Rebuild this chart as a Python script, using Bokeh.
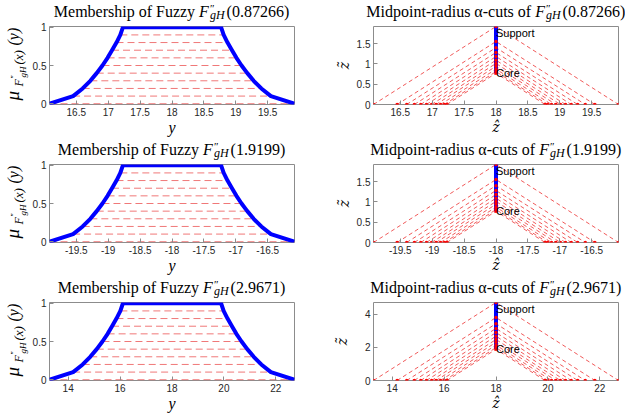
import math
from bokeh.plotting import figure
from bokeh.models import Range1d, Label, FixedTicker, NumeralTickFormatter
from bokeh.layouts import column, row
from bokeh.embed import file_html
from bokeh.resources import INLINE
from bokeh.core.properties import value

# ---------------- data ----------------
alpha_levels = [0.0, 0.1, 0.2, 0.3, 0.4, 0.5, 0.6, 0.7, 0.8, 0.9, 1.0]
x_points = ["0.87266", "1.9199", "2.9671"]
midpoints = [18.0, -18.0, 18.0]
radius_x1 = [1.92, 1.55, 1.40, 1.28, 1.18, 1.09, 1.01, 0.94, 0.87, 0.81, 0.77]
radius_x2 = [1.92, 1.55, 1.40, 1.28, 1.18, 1.09, 1.01, 0.94, 0.87, 0.81, 0.77]
radius_x3 = [4.72, 3.81, 3.44, 3.15, 2.90, 2.68, 2.48, 2.31, 2.14, 1.99, 1.89]
xticks_1 = [16.5, 17, 17.5, 18, 18.5, 19, 19.5]
xticks_2 = [-19.5, -19, -18.5, -18, -17.5, -17, -16.5]
xticks_3 = [14, 16, 18, 20, 22]
yticks_membership = [0, 0.5, 1]
yticks_radius_1 = [0, 0.5, 1, 1.5]
yticks_radius_2 = [0, 0.5, 1, 1.5]
yticks_radius_3 = [0, 2, 4]

# ---------------- style ----------------
GREY = "#8c8c8c"
TICK_TXT = "#262626"
SERIF = "Liberation Serif"
SANS = "Liberation Sans"
RED_CUT = "#f07878"
RED_MR = "#f05a5a"
RED_DOT = "#ff0000"
BLUE = "#0000ff"
TSIZE = 16
MID = 0.3375   # (ascent - descent)/2 in em for Liberation Serif

REG = {'M': .889, 'e': .444, 'm': .778, 'b': .5, 'r': .333, 's': .389, 'h': .5,
       'i': .278, 'p': .5, ' ': .25, 'o': .5, 'f': .333, 'F': .556, 'u': .5,
       'z': .444, 'y': .5, '(': .333, ')': .333, '.': .25, 'd': .5, 'n': .5,
       't': .278, 'a': .444, 'c': .444, '-': .333, '\u2033': .41, '\u03b1': .5}
ITA = {'F': .611, 'g': .5, 'H': .722}

TITLE_H = 22
TOP = 4
FRAME_H = 78
LEFT_W = 310
RIGHT_W = 315
YLAB_W = 29


def tw(s, size, italic):
    tab = ITA if italic else REG
    return sum(tab.get(c, 0.5) for c in s) * size


def blank(p):
    p.grid.visible = False
    p.outline_line_color = None
    p.background_fill_color = "white"
    p.border_fill_color = "white"
    return p


def put(p, x, yb, t, size, italic=False, rotated=False, align="left", font=SERIF):
    # (x, yb) = start of the text baseline; drawn with a centred baseline
    if rotated:
        x, y, ang = x - MID * size, yb, math.pi / 2
    else:
        x, y, ang = x, yb + MID * size, 0.0
    p.text(x=[x], y=[y], text=[t], text_font=value(font),
           text_font_size=f"{size}px",
           text_font_style="italic" if italic else "normal",
           angle=ang, text_align=align, text_baseline="middle",
           text_color="black")


def title_strip(width, frame_left, frame_w, prefix, xval):
    p = figure(frame_width=width, frame_height=TITLE_H, output_backend="svg",
               toolbar_location=None,
               x_range=Range1d(-frame_left, width - frame_left),
               y_range=Range1d(FRAME_H + TOP, FRAME_H + TOP + TITLE_H),
               x_axis_type=None, y_axis_type=None,
               min_border=0, min_border_left=0, min_border_right=0,
               min_border_top=0, min_border_bottom=0)
    blank(p)
    w_pre = tw(prefix, TSIZE, False)
    w_f = tw("F", TSIZE, True) + 1
    w_sub = tw("gH", 12, True) + 2
    w_suf = tw("(" + xval + ")", TSIZE, False)
    total = w_pre + w_f + w_sub + w_suf
    fx = frame_w / 2 - total / 2 + w_pre
    y0 = FRAME_H + 9.5
    put(p, fx, y0, prefix, TSIZE, False, align="right")
    put(p, fx, y0, "F", TSIZE, True)
    put(p, fx + w_f, y0 + 5.5, "\u2033", 11, False)
    put(p, fx + w_f, y0 - 2.5, "gH", 12, True)
    put(p, fx + w_f + w_sub, y0, "(" + xval + ")", TSIZE, False)
    return p


def style(p, xticks, yticks):
    p.xaxis.ticker = FixedTicker(ticks=xticks)
    p.yaxis.ticker = FixedTicker(ticks=yticks)
    for ax in (p.xaxis[0], p.yaxis[0]):
        ax.formatter = NumeralTickFormatter(format="0.[0]")
        ax.axis_line_color = None
        ax.major_tick_in = 4
        ax.major_tick_out = 0
        ax.minor_tick_line_color = None
        ax.major_tick_line_color = GREY
        ax.major_label_text_font = SANS
        ax.major_label_text_font_size = "10px"
        ax.major_label_text_color = TICK_TXT
        ax.major_label_standoff = 3
    p.xgrid.visible = False
    p.ygrid.visible = False
    p.outline_line_color = GREY
    p.outline_line_alpha = 1
    p.outline_line_width = 1
    p.background_fill_color = "white"
    p.border_fill_color = "white"


def left_panel(mid, radii, xticks, xval, row_h):
    main_h = row_h - TITLE_H
    bottom = main_h - TOP - FRAME_H
    r0 = radii[0]
    main_w = LEFT_W - YLAB_W
    p = figure(width=main_w, height=main_h, output_backend="svg", toolbar_location=None,
               x_range=Range1d(mid - r0, mid + r0), y_range=Range1d(-0.01, 1.01),
               min_border_left=19, min_border_right=16, min_border_top=TOP,
               min_border_bottom=bottom)
    style(p, xticks, yticks_membership)
    p.xaxis.axis_label = "y"
    p.xaxis.axis_label_text_font = SERIF
    p.xaxis.axis_label_text_font_style = "italic"
    p.xaxis.axis_label_text_font_size = "16px"
    p.xaxis.axis_label_text_color = "black"
    p.xaxis.axis_label_standoff = 0
    fw = main_w - 19 - 16
    p.segment(x0=[mid - r for r in radii], y0=alpha_levels,
              x1=[mid + r for r in radii], y1=alpha_levels,
              line_color=RED_CUT, line_width=1, line_dash="7 4")
    xs = [mid - r for r in radii] + [mid + r for r in reversed(radii)]
    ys = list(alpha_levels) + list(reversed(alpha_levels))
    p.line(xs, ys, line_color=BLUE, line_width=4, line_join="round")

    t = title_strip(LEFT_W, 48, fw, "Membership of Fuzzy ", xval)

    # rotated y label  mu_{F''_{gH}(x)}(y), frame-relative coordinates
    yl = figure(width=YLAB_W, height=main_h, output_backend="svg", toolbar_location=None,
                x_range=Range1d(-48, -48 + YLAB_W), y_range=Range1d(0, FRAME_H),
                x_axis_type=None, y_axis_type=None,
                min_border_left=0, min_border_right=0, min_border_top=TOP,
                min_border_bottom=bottom)
    blank(yl)
    put(yl, -30, 4, "\u03bc", 19, True, rotated=True)
    put(yl, -25.5, 18, "F", 12, True, rotated=True)
    put(yl, -31, 26, "\u2033", 8, False, rotated=True)
    put(yl, -22.5, 27, "gH", 9, True, rotated=True)
    put(yl, -25.5, 40, "(x)", 13, True, rotated=True)
    put(yl, -30, 59, "(y)", 16, True, rotated=True)
    return column(row(t), row(yl, p))


def right_panel(mid, radii, xticks, yticks, xval, row_h, ylab_standoff):
    main_h = row_h - TITLE_H
    bottom = main_h - TOP - FRAME_H
    r0 = radii[0]
    p = figure(width=RIGHT_W, height=main_h, output_backend="svg", toolbar_location=None,
               x_range=Range1d(mid - r0, mid + r0), y_range=Range1d(0, r0),
               min_border_left=63, min_border_right=7, min_border_top=TOP,
               min_border_bottom=bottom)
    style(p, xticks, yticks)
    fw = RIGHT_W - 63 - 7
    p.xaxis.axis_label = "\u1e91"
    p.xaxis.axis_label_text_font = "DejaVu Serif"
    p.xaxis.axis_label_text_font_style = "italic"
    p.xaxis.axis_label_text_font_size = "14px"
    p.xaxis.axis_label_text_color = "black"
    p.xaxis.axis_label_standoff = 0
    p.yaxis.axis_label = "z\u0303"
    p.yaxis.axis_label_text_font = "DejaVu Serif"
    p.yaxis.axis_label_text_font_style = "italic"
    p.yaxis.axis_label_text_font_size = "14px"
    p.yaxis.axis_label_text_color = "black"
    p.yaxis.axis_label_standoff = ylab_standoff

    p.multi_line(xs=[[mid - r, mid, mid + r] for r in radii],
                 ys=[[0, r, 0] for r in radii],
                 line_color=RED_MR, line_width=1, line_dash="4 3")
    p.line([mid, mid], [radii[-1], radii[0]], line_color=BLUE, line_width=4)
    p.scatter([mid - r for r in radii] + [mid + r for r in radii] + [mid] * len(radii),
              [0] * (2 * len(radii)) + list(radii),
              size=3.5, color=RED_DOT, line_color=None)
    p.add_layout(Label(x=mid, y=radii[0], text="Support", text_font=SANS,
                       text_font_size="11px", text_baseline="top", text_align="left",
                       text_color="black"))
    p.add_layout(Label(x=mid, y=radii[-1], text="Core", text_font=SANS,
                       text_font_size="11px", text_baseline="middle", text_align="left",
                       text_color="black"))
    t = title_strip(RIGHT_W, 63, fw, "Midpoint-radius \u03b1-cuts of ", xval)
    return column(row(t), row(p))


specs = [
    (midpoints[0], radius_x1, xticks_1, yticks_radius_1, x_points[0], 138, 2),
    (midpoints[1], radius_x2, xticks_2, yticks_radius_2, x_points[1], 138, 2),
    (midpoints[2], radius_x3, xticks_3, yticks_radius_3, x_points[2], 143, 12),
]
rows = []
for mid, radii, xt, yt, xv, h, so in specs:
    rows.append(row(left_panel(mid, radii, xt, xv, h),
                    right_panel(mid, radii, xt, yt, xv, h, so)))

layout = column(*rows)
open("out.html", "w").write(file_html(layout, INLINE))
